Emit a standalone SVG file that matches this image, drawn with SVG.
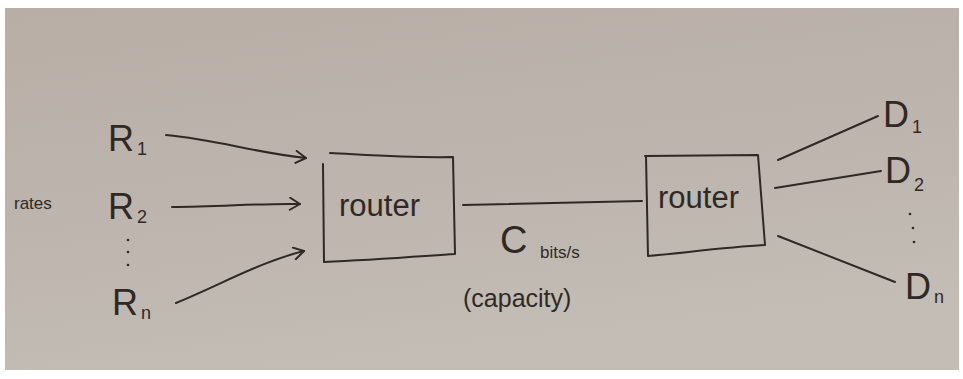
<svg xmlns="http://www.w3.org/2000/svg" width="963" height="379" viewBox="0 0 963 379">
  <defs>
    <linearGradient id="paper" x1="0" y1="0" x2="0.3" y2="1">
      <stop offset="0" stop-color="#b9aea6"/>
      <stop offset="0.6" stop-color="#bdb5ae"/>
      <stop offset="1" stop-color="#c3bdb6"/>
    </linearGradient>
    <marker id="head" viewBox="0 0 14 14" refX="12" refY="7" markerWidth="14" markerHeight="14" markerUnits="userSpaceOnUse" orient="auto">
      <polyline points="2,1 12,7 2,13" fill="none" stroke="#2f2925" stroke-width="2" stroke-linecap="round" stroke-linejoin="round"/>
    </marker>
  </defs>
  <style>
    .ink { fill: none; stroke: #2f2925; stroke-width: 2; stroke-linecap: round; stroke-linejoin: round; }
    .t { font-family: "Liberation Sans", "DejaVu Sans", sans-serif; fill: #2f2925; }
    .big { font-size: 36px; }
    .sub { font-size: 18px; }
    .lbl { font-size: 31px; }
  </style>
  <rect x="0" y="0" width="963" height="379" fill="#ffffff"/>
  <rect x="5" y="8" width="954" height="362" fill="url(#paper)"/>

  <g id="connectors">
    <path class="ink" d="M166,135 C220,140 250,152 306,158" marker-end="url(#head)"/>
    <path class="ink" d="M172,207 C220,207 260,203 300,204" marker-end="url(#head)"/>
    <path class="ink" d="M176,303 C220,285 260,262 304,251" marker-end="url(#head)"/>
    <path class="ink" d="M463,205 L642,201"/>
    <path class="ink" d="M778,160 L878,116"/>
    <path class="ink" d="M775,188 L881,171"/>
    <path class="ink" d="M778,236 L895,282"/>
  </g>

  <g id="rates">
    <text class="t" x="14" y="209" font-size="17">rates</text>
  </g>
  <g id="R1">
    <text class="t big" x="108" y="151">R</text><text class="t sub" x="137" y="155">1</text>
  </g>
  <g id="R2">
    <text class="t big" x="108" y="219">R</text><text class="t sub" x="137" y="223">2</text>
  </g>
  <g id="Rdots" fill="#2f2925">
    <circle cx="128" cy="240" r="1.3"/>
    <circle cx="128" cy="252" r="1.3"/>
    <circle cx="128" cy="265" r="1.3"/>
  </g>
  <g id="Rn">
    <text class="t big" x="112" y="315">R</text><text class="t sub" x="141" y="319">n</text>
  </g>

  <g id="router1">
    <path class="ink" d="M330,153 C370,155 410,158 453,157 L455,254 C410,257 370,260 324,262 L323,164"/>
    <text class="t lbl" x="339" y="216">router</text>
  </g>

  <g id="capacity">
    <text class="t" x="500" y="253" font-size="38">C</text>
    <text class="t" x="540" y="258" font-size="17">bits/s</text>
    <text class="t" x="463" y="307" font-size="25">(capacity)</text>
  </g>

  <g id="router2">
    <path class="ink" d="M645,156 L758,155 L765,245 C730,247 690,252 648,256 L646,156"/>
    <text class="t lbl" x="658" y="208">router</text>
  </g>

  <g id="D1">
    <text class="t big" x="883" y="127">D</text><text class="t sub" x="912" y="133">1</text>
  </g>
  <g id="D2">
    <text class="t big" x="885" y="183">D</text><text class="t sub" x="914" y="191">2</text>
  </g>
  <g id="Ddots" fill="#2f2925">
    <circle cx="910" cy="214" r="1.3"/>
    <circle cx="913" cy="228" r="1.3"/>
    <circle cx="914" cy="242" r="1.3"/>
  </g>
  <g id="Dn">
    <text class="t big" x="905" y="299">D</text><text class="t sub" x="934" y="303">n</text>
  </g>
</svg>
